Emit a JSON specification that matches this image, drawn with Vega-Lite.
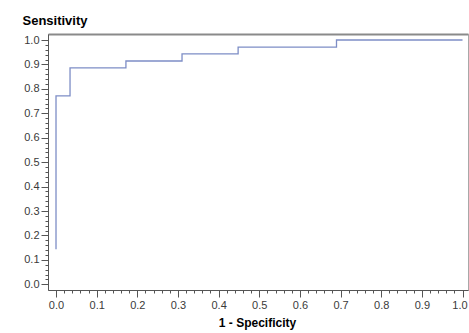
{
  "$schema": "https://vega.github.io/schema/vega-lite/v6.json",
  "width": 420,
  "height": 256,
  "autosize": {"type": "none"},
  "padding": {"left": 48, "top": 34, "right": 1, "bottom": 43},
  "background": "white",
  "config": {
    "view": {"stroke": "#a8a8a8", "strokeWidth": 1},
    "font": "Liberation Sans"
  },
  "data": {
    "values": [
      {"fpr": 0.0, "sens": 0.143},
      {"fpr": 0.0, "sens": 0.771},
      {"fpr": 0.0345, "sens": 0.886},
      {"fpr": 0.172, "sens": 0.914},
      {"fpr": 0.31, "sens": 0.943},
      {"fpr": 0.448, "sens": 0.971},
      {"fpr": 0.69, "sens": 1.0},
      {"fpr": 1.0, "sens": 1.0}
    ]
  },
  "resolve": {"axis": {"x": "independent", "y": "independent"}},
  "layer": [
    {
      "mark": {"type": "line", "interpolate": "step-after", "color": "#7d8dc6", "strokeWidth": 1.3},
      "encoding": {
        "x": {
          "field": "fpr", "type": "quantitative",
          "scale": {"domain": [-0.0197, 1.0135], "nice": false, "zero": false},
          "axis": {
            "orient": "bottom",
            "values": [0,0.02,0.04,0.06,0.08,0.1,0.12,0.14,0.16,0.18,0.2,0.22,0.24,0.26,0.28,0.3,0.32,0.34,0.36,0.38,0.4,0.42,0.44,0.46,0.48,0.5,0.52,0.54,0.56,0.58,0.6,0.62,0.64,0.66,0.68,0.7,0.72,0.74,0.76,0.78,0.8,0.82,0.84,0.86,0.88,0.9,0.92,0.94,0.96,0.98,1.0],
            "grid": false,
            "domainColor": "#555555",
            "tickColor": "#555555",
            "tickSize": {"condition": {"test": "abs(datum.value*10 - round(datum.value*10)) < 0.001", "value": 7}, "value": 3},
            "labelExpr": "abs(datum.value*10 - round(datum.value*10)) < 0.001 ? format(datum.value, '.1f') : ''",
            "labelOffset": {"condition": {"test": "datum.value > 0.999", "value": -3}, "value": 0},
            "labelOverlap": false,
            "labelBound": false,
            "labelFontSize": 11,
            "labelColor": "#3a3a3a",
            "labelPadding": 2,
            "title": "1 - Specificity",
            "titleFontSize": 12,
            "titleFontWeight": "bold",
            "titleColor": "#000000",
            "titleX": 209,
            "titleY": 36,
            "titleBaseline": "alphabetic"
          }
        },
        "y": {
          "field": "sens", "type": "quantitative",
          "scale": {"domain": [-0.0233, 1.0246], "nice": false, "zero": false},
          "axis": {
            "orient": "left",
            "values": [0,0.02,0.04,0.06,0.08,0.1,0.12,0.14,0.16,0.18,0.2,0.22,0.24,0.26,0.28,0.3,0.32,0.34,0.36,0.38,0.4,0.42,0.44,0.46,0.48,0.5,0.52,0.54,0.56,0.58,0.6,0.62,0.64,0.66,0.68,0.7,0.72,0.74,0.76,0.78,0.8,0.82,0.84,0.86,0.88,0.9,0.92,0.94,0.96,0.98,1.0],
            "grid": false,
            "domainColor": "#555555",
            "tickColor": "#555555",
            "tickSize": {"condition": {"test": "abs(datum.value*10 - round(datum.value*10)) < 0.001", "value": 7}, "value": 3},
            "labelExpr": "abs(datum.value*10 - round(datum.value*10)) < 0.001 ? format(datum.value, '.1f') : ''",
            "labelOverlap": false,
            "labelBound": false,
            "labelFontSize": 11,
            "labelColor": "#3a3a3a",
            "labelPadding": 2,
            "title": "Sensitivity",
            "titleAngle": 0,
            "titleAlign": "left",
            "titleBaseline": "alphabetic",
            "titleX": -26,
            "titleY": -10,
            "titleFontSize": 13,
            "titleFontWeight": "bold",
            "titleColor": "#000000"
          }
        }
      }
    },
    {
      "mark": {"type": "line", "strokeOpacity": 0},
      "encoding": {
        "x": {
          "field": "fpr", "type": "quantitative",
          "axis": {"orient": "top", "labels": false, "ticks": false, "title": null, "grid": false, "domainColor": "#8a8a8a", "domainWidth": 2}
        },
        "y": {"field": "sens", "type": "quantitative", "axis": null}
      }
    }
  ]
}
